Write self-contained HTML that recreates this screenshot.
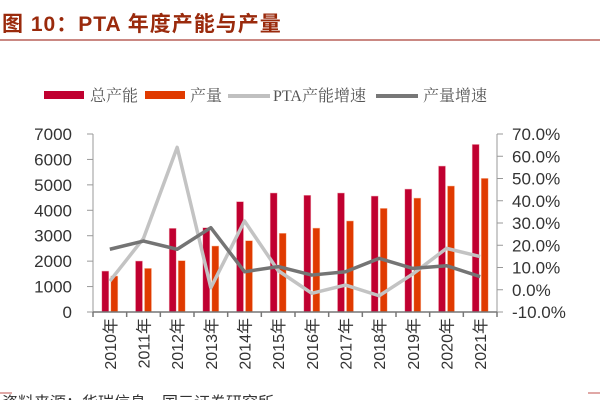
<!DOCTYPE html>
<html><head><meta charset="utf-8"><style>
body{margin:0;background:#fff;width:600px;height:400px;overflow:hidden;font-family:"Liberation Sans","Noto Sans CJK SC",sans-serif}
</style></head><body>
<svg width="600" height="400" xmlns="http://www.w3.org/2000/svg">
<text x="2" y="31" font-size="21" font-weight="bold" letter-spacing="1" fill="#9a2a0c" font-family="Liberation Sans,Noto Sans CJK SC,sans-serif">图  10：PTA 年度产能与产量</text>
<line x1="0" y1="40" x2="600" y2="40" stroke="#b8605a" stroke-width="1.5"/>
<g id="legend" font-size="16" fill="#555" font-family="Liberation Serif,Noto Serif CJK SC,serif">
<rect x="44" y="91" width="40" height="8" fill="#c00030"/>
<text x="90" y="101">总产能</text>
<rect x="145" y="91" width="40" height="8" fill="#e03a00"/>
<text x="190" y="101">产量</text>
<line x1="228" y1="96" x2="270" y2="96" stroke="#c0c0c0" stroke-width="4"/>
<text x="273" y="101">PTA产能增速</text>
<line x1="376" y1="96" x2="418" y2="96" stroke="#777" stroke-width="4"/>
<text x="423" y="101">产量增速</text>
</g>
<g id="plot"></g>
<line x1="0" y1="393" x2="12" y2="393" stroke="#c0504d" stroke-width="1"/>
<line x1="588" y1="393" x2="600" y2="393" stroke="#c0504d" stroke-width="1"/>
<text x="2" y="408" font-size="16" fill="#333">资料来源：华瑞信息，国元证券研究所</text>
</svg>
<script>
const categories=["2010年","2011年","2012年","2013年","2014年","2015年","2016年","2017年","2018年","2019年","2020年","2021年"];
const capacity=[1610,2005,3290,3315,4340,4680,4590,4680,4560,4835,5740,6590];
const output=[1415,1715,2020,2595,2805,3095,3300,3580,4075,4480,4955,5255];
const capacityGrowth=[3.9,23.1,64.0,0.9,30.9,8.6,-1.6,2.1,-2.7,7.1,18.6,14.9];
const outputGrowth=[18.2,21.9,18.2,27.9,8.1,10.4,6.6,8.1,14.1,9.6,10.8,5.9];
const leftTicks=[0,1000,2000,3000,4000,5000,6000,7000];
const rightTicks=[-10,0,10,20,30,40,50,60,70];
const NS="http://www.w3.org/2000/svg";
const g=document.getElementById('plot');
const X0=93,X1=497,Y0=312,Y1=134;
const slot=(X1-X0)/categories.length;
const cx=i=>X0+slot*(i+0.5);
const yL=v=>Y0-(v/7000)*(Y0-Y1);
const yR=v=>Y0-((v+10)/80)*(Y0-Y1);
function mk(t,a){const e=document.createElementNS(NS,t);for(const k in a)e.setAttribute(k,a[k]);g.appendChild(e);return e;}
let e;
e=mk('line',{x1:X0,y1:Y1,x2:X0,y2:Y0,stroke:'#999','stroke-width':1});


e=mk('line',{x1:X1,y1:Y1,x2:X1,y2:Y0,stroke:'#999','stroke-width':1});


leftTicks.forEach(v=>{
 mk('line',{x1:X0-6,y1:yL(v),x2:X0,y2:yL(v),stroke:'#999'});
 e=mk('text',{x:72,y:yL(v)+6,'text-anchor':'end','font-size':17,fill:'#333'});e.textContent=v;
 
 
});
rightTicks.forEach(v=>{
 mk('line',{x1:X1,y1:yR(v),x2:X1+6,y2:yR(v),stroke:'#999'});
 e=mk('text',{x:512,y:yR(v)+6,'font-size':17,fill:'#333'});e.textContent=v.toFixed(1)+'%';
 
 
});
categories.forEach((c,i)=>{
 const x=cx(i);
 e=mk('rect',{x:x-8,y:yL(capacity[i]),width:7,height:Y0-yL(capacity[i]),fill:'#c00030',stroke:'#f0b0b8','stroke-width':0.5});
 
 
 e=mk('rect',{x:x+1,y:yL(output[i]),width:7,height:Y0-yL(output[i]),fill:'#e03a00',stroke:'#f8c0a0','stroke-width':0.5});
 
 
 mk('line',{x1:X0+slot*i,y1:Y0,x2:X0+slot*i,y2:Y0+5,stroke:'#777','stroke-width':1.5});
 e=mk('text',{x:0,y:0,'font-size':16,fill:'#333','text-anchor':'end',transform:`translate(${x+6},318) rotate(-90)`});e.textContent=c;
 
 
});
mk('line',{x1:X1,y1:Y0,x2:X1,y2:Y0+5,stroke:'#777','stroke-width':1.5});
e=mk('line',{x1:X0,y1:Y0,x2:X1,y2:Y0,stroke:'#777','stroke-width':1.5});


function line(arr,col,name){const p=arr.map((v,i)=>cx(i)+','+yR(v)).join(' ');
 e=mk('polyline',{points:p,fill:'none',stroke:col,'stroke-width':3.5,'stroke-linejoin':'round'});
 
 }
line(capacityGrowth,'#c3c3c3','line-capacity-growth');
line(outputGrowth,'#747474','line-output-growth');
</script>
</body></html>
